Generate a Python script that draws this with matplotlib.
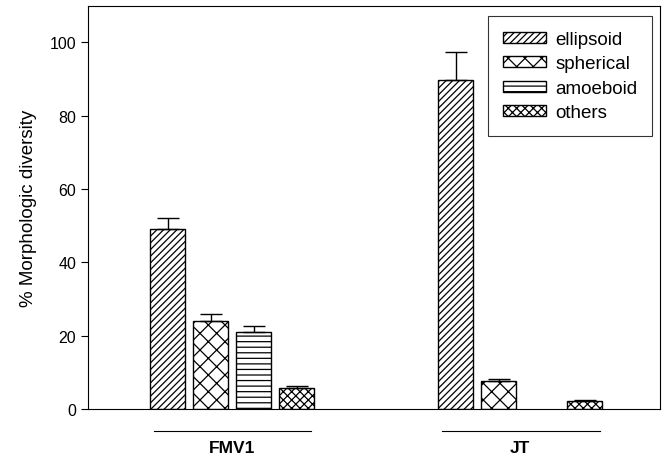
import matplotlib
matplotlib.use("Agg")
import matplotlib.pyplot as plt
import matplotlib.transforms as mtransforms
import numpy as np

plt.rcParams['font.family'] = ['Liberation Sans', 'DejaVu Sans']
plt.rcParams['hatch.linewidth'] = 0.9

# data
groups = ["FMV1", "JT"]
shapes = ["ellipsoid", "spherical", "amoeboid", "others"]
values = {
    "ellipsoid": [49.2, 89.8],
    "spherical": [23.9, 7.7],
    "amoeboid": [20.9, 0.0],
    "others": [5.7, 2.2],
}
errors = {
    "ellipsoid": [3.0, 7.6],
    "spherical": [2.1, 0.6],
    "amoeboid": [1.8, 0.0],
    "others": [0.5, 0.3],
}
hatches = ["/////", "xx", "---", "xxxx"]

fig = plt.figure(figsize=(6.67, 4.56), dpi=100)
ax = fig.add_axes([0.132, 0.101, 0.858, 0.884])

x = np.arange(len(groups))
width = 0.122
step = 0.149
for i, s in enumerate(shapes):
    pos = x + (i - 1.5) * step
    vals = np.array(values[s])
    errs = np.array(errors[s])
    show = vals > 0
    # zero-height bars are not drawn in the original
    ax.bar(pos[show], vals[show], width, color="white", edgecolor="black",
           linewidth=1.0, hatch=hatches[i], label=s, zorder=2)
    ax.errorbar(pos[show], vals[show], yerr=[np.zeros(show.sum()), errs[show]],
                fmt="none", ecolor="black", elinewidth=1.0, capsize=8,
                capthick=1.0, zorder=3)

ax.set_xlim(-0.5, 1.486)
ax.set_ylim(0, 110)
ax.set_yticks([0, 20, 40, 60, 80, 100])
ax.set_xticks([])
ax.tick_params(axis="y", labelsize=11.5, length=5, width=0.8)
ax.set_ylabel("% Morphologic diversity", fontsize=13.5, labelpad=9)
for sp in ax.spines.values():
    sp.set_linewidth(0.8)

# group lines and labels under the axis
trans = mtransforms.blended_transform_factory(ax.transData, ax.transAxes)
for g, xc in zip(groups, x):
    ax.plot([xc - 0.27, xc + 0.275], [-0.054, -0.054], color="black",
            linewidth=0.8, transform=trans, clip_on=False)
    ax.text(xc, -0.095, g, ha="center", va="center", fontsize=12.5,
            fontweight="bold", transform=trans)

leg = ax.legend(loc="upper right", fontsize=13.5, frameon=True, fancybox=False,
                edgecolor="black", handlelength=2.3, handleheight=0.55,
                handletextpad=0.5, borderpad=0.8, labelspacing=0.4,
                borderaxespad=0, bbox_to_anchor=(0.986, 0.975))
leg.get_frame().set_linewidth(0.8)

fig.savefig("out.png", dpi=100)
